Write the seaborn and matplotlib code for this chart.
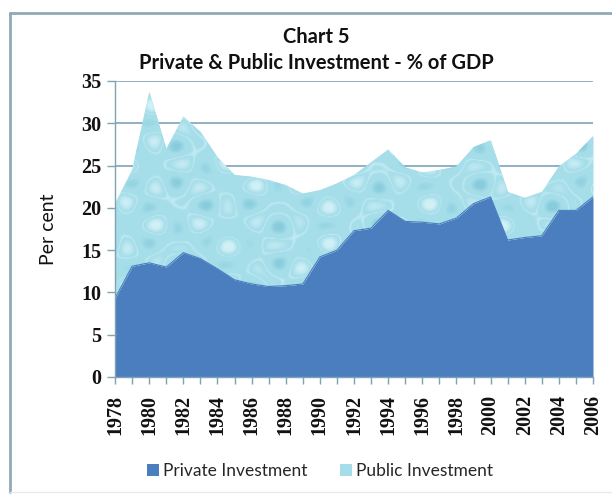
import numpy as np
import pandas as pd
import matplotlib
matplotlib.use("Agg")
import matplotlib.pyplot as plt
import seaborn as sns
from matplotlib.patches import Patch
from matplotlib.lines import Line2D

# Investment as a share of GDP (per cent)
years = list(range(1978, 2007))
private_inv = [9.3, 13.1, 13.5, 13.0, 14.7, 14.0, 12.8, 11.5, 11.0, 10.7,
               10.8, 11.0, 14.2, 15.0, 17.3, 17.6, 19.7, 18.4, 18.3, 18.1,
               18.8, 20.5, 21.3, 16.2, 16.5, 16.7, 19.7, 19.7, 21.3]
public_inv = [11.2, 11.4, 20.2, 14.0, 16.1, 15.0, 13.2, 12.4, 12.7, 12.6,
              11.9, 10.7, 7.9, 7.9, 6.6, 7.8, 7.2, 6.4, 5.9, 6.4,
              6.1, 6.7, 6.7, 5.7, 4.7, 5.2, 5.2, 6.7, 7.2]
series_names = ["Private Investment", "Public Investment"]
y_ticks = [0, 5, 10, 15, 20, 25, 30, 35]
x_labels = list(range(1978, 2007, 2))

df = pd.DataFrame({"Year": years, series_names[0]: private_inv,
                   series_names[1]: public_inv})

sns.set_style("white")
plt.rcParams["font.family"] = ["Lato", "DejaVu Sans"]

BLUE = "#4a7ebf"
CYAN = "#a6dde9"
GRID = "#7fa3b5"

W, H = 612, 501
fig = plt.figure(figsize=(W / 100, H / 100), dpi=100)
ax = fig.add_axes([115 / W, 1 - 377 / H, 478 / W, 296 / H])

# stacked areas
polys = ax.stackplot(df["Year"], df[series_names[0]], df[series_names[1]],
                     colors=[BLUE, CYAN], linewidth=0, zorder=2)
sns.lineplot(data=df, x="Year", y=series_names[0], ax=ax, color=BLUE,
             linewidth=0.8, zorder=3)

# bubbly water texture inside the public-investment band
th, tw = 300, 480
yy, xx = np.mgrid[0:th, 0:tw].astype(float)
pat = (np.sin(xx / 8.0) * np.sin(yy / 6.5)
       + 0.7 * np.sin((xx + 1.3 * yy) / 12.0) * np.sin((xx - yy) / 10.0))
base = np.array([0.65, 0.87, 0.915])
img = np.ones((th, tw, 3)) * base
light = np.clip((pat - 0.6) / 0.8, 0, 1)[..., None]
ring = np.exp(-((pat - 0.3) / 0.08) ** 2)[..., None]
dark = np.clip((-pat - 0.7) / 0.8, 0, 1)[..., None]
img = img + light * (np.array([0.86, 0.96, 0.98]) - base) * 0.8
img = img + ring * (np.array([0.82, 0.95, 0.97]) - base) * 0.6
img = img + dark * (np.array([0.50, 0.78, 0.85]) - base) * 0.8
img = np.clip(img, 0, 1)
im = ax.imshow(img, extent=[1978, 2006, 0, 35], aspect="auto",
               origin="lower", zorder=2.5, interpolation="bilinear")
im.set_clip_path(polys[1].get_paths()[0], transform=ax.transData)

ax.set_xlim(1978, 2006)
ax.set_ylim(0, 35)

# gridlines
for v in y_ticks[1:]:
    ax.axhline(v, color=GRID, linewidth=1.2, zorder=1)

for s in ["top", "right"]:
    ax.spines[s].set_visible(False)
for s in ["left", "bottom"]:
    ax.spines[s].set_color(GRID)
    ax.spines[s].set_linewidth(1.0)
    ax.spines[s].set_zorder(4)

ax.set_yticks(y_ticks)
ax.set_yticklabels([str(v) for v in y_ticks])
ax.set_xticks(x_labels)
ax.set_xticklabels([str(v) for v in x_labels], rotation=90)
ax.set_xticks(years, minor=True)
ax.tick_params(axis="y", which="major", length=6, width=1.0, color=GRID,
               direction="out", left=True, pad=4)
ax.tick_params(axis="x", which="both", length=5, width=1.0, color=GRID,
               direction="out", bottom=True, pad=8)
for lbl in ax.get_yticklabels() + ax.get_xticklabels():
    lbl.set_fontfamily(["Liberation Serif", "DejaVu Serif"])
    lbl.set_fontweight("bold")
    lbl.set_fontsize(14.5)
    lbl.set_color("#111111")

ax.set_xlabel("")
ax.set_ylabel("Per cent", fontsize=14, color="#111111", labelpad=17)

# titles
fig.text(316 / W, 1 - 37 / H, "Chart 5", ha="center", va="center",
         fontsize=14.5, fontweight="bold", color="#111111")
fig.text(316 / W, 1 - 63 / H, "Private & Public Investment - % of GDP",
         ha="center", va="center", fontsize=14.5, fontweight="bold",
         color="#111111")

# legend
handles = [Patch(facecolor=BLUE, edgecolor="none"),
           Patch(facecolor=CYAN, edgecolor="none")]
fig.legend(handles, series_names, loc="center",
           bbox_to_anchor=(320 / W, 1 - 471 / H), ncol=2, frameon=False,
           fontsize=12.5, handlelength=0.7, handleheight=0.7,
           handletextpad=0.2, columnspacing=1.9)

# outer chart frame
frame_c = "#8fa9b8"
fig.add_artist(Line2D([10 / W, 10 / W], [1 - 12.5 / H, 1 - 492 / H],
                      transform=fig.transFigure, color=frame_c, lw=2))
fig.add_artist(Line2D([10 / W, 1], [1 - 12.5 / H, 1 - 12.5 / H],
                      transform=fig.transFigure, color=frame_c, lw=2))
fig.add_artist(Line2D([10 / W, 1], [1 - 492 / H, 1 - 492 / H],
                      transform=fig.transFigure, color="#e6ecef", lw=1))

fig.savefig("out.png", dpi=100)
